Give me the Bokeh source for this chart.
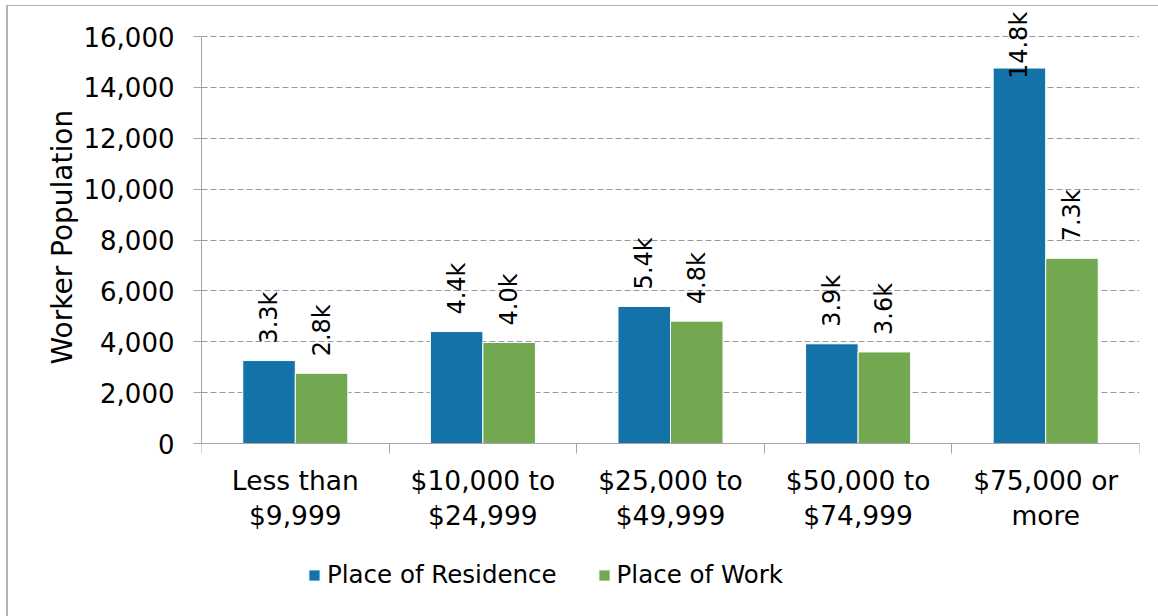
from math import pi
from bokeh.plotting import figure
from bokeh.models import (ColumnDataSource, FixedTicker, NumeralTickFormatter,
                          LabelSet, Legend, LegendItem, Range1d, Title)
from bokeh.core.properties import value
from bokeh.transform import dodge
from bokeh.embed import file_html
from bokeh.resources import INLINE

# ---- data ----
categories = ["Less than\n$9,999", "$10,000 to\n$24,999", "$25,000 to\n$49,999",
              "$50,000 to\n$74,999", "$75,000 or\nmore"]
residence = [3260, 4400, 5390, 3920, 14760]
work = [2760, 3970, 4810, 3600, 7280]
series_names = ["Place of Residence", "Place of Work"]
y_ticks = [0, 2000, 4000, 6000, 8000, 10000, 12000, 14000, 16000]
y_title = "Worker Population"

FONT = "DejaVu Sans"
BLUE = "#1373a9"
GREEN = "#72a84f"
AXIS = "#a6a6a6"
GRID = "#999999"

n = len(categories)
centers = [i + 0.5 for i in range(n)]


def fmt(v):
    return f"{v / 1000:.1f}k"


def offset(v):
    # Excel keeps an outside-end label inside the chart area
    return -11 if v > 13500 else 17


src = ColumnDataSource(dict(
    x=centers,
    res=residence, work=work,
    res_lbl=[fmt(v) for v in residence], work_lbl=[fmt(v) for v in work],
    res_off=[offset(v) for v in residence], work_off=[offset(v) for v in work],
))

# frame spans y=6..616 px; value 0 sits at y=443 and 16,000 at y=36
px_per_unit = 407 / y_ticks[-1]
y_end = y_ticks[-1] + 30 / px_per_unit
y_start = -(616 - 443) / px_per_unit

p = figure(width=1158, height=616, output_backend="svg", toolbar_location=None,
           x_range=Range1d(0, n), y_range=Range1d(y_start, y_end),
           min_border_left=201, min_border_right=19, min_border_top=6,
           min_border_bottom=0)
p.outline_line_color = None
p.border_fill_color = None
p.styles = {"box-shadow": "inset 6px 5px 0 0 #ffffff, inset 8px 6px 0 0 #b3b3b3"}

bw = 0.28
r1 = p.vbar(x=dodge("x", -bw / 2, range=p.x_range), top="res", width=bw, bottom=0,
            source=src, fill_color=BLUE, line_color="white", line_width=1)
r2 = p.vbar(x=dodge("x", bw / 2, range=p.x_range), top="work", width=bw, bottom=0,
            source=src, fill_color=GREEN, line_color="white", line_width=1)

for xs, ys, txt, off in [(-bw / 2, "res", "res_lbl", "res_off"),
                         (bw / 2, "work", "work_lbl", "work_off")]:
    ls = LabelSet(x=dodge("x", xs, range=p.x_range), y=ys, text=txt, source=src,
                  angle=pi / 2, text_align="left", text_baseline="middle",
                  y_offset=off, text_font=value(FONT), text_font_size=value("24px"),
                  text_color="#000000")
    p.add_layout(ls)

# y axis
p.yaxis.ticker = FixedTicker(ticks=y_ticks)
p.yaxis.bounds = (y_ticks[0], y_ticks[-1])
p.yaxis.formatter = NumeralTickFormatter(format="0,0")
p.yaxis.major_label_text_font = FONT
p.yaxis.major_label_text_font_size = "26px"
p.yaxis.major_label_text_color = "#000000"
p.yaxis.major_tick_out = 8
p.yaxis.major_tick_in = 0
p.yaxis.minor_tick_line_color = None
p.yaxis.axis_line_color = AXIS
p.yaxis.major_tick_line_color = AXIS
p.yaxis.major_label_standoff = 19

# y axis title, starting from the frame bottom and lifted to sit beside the 0..16,000 span
ytitle = Title(text=y_title, align="left", offset=252, text_font=FONT,
               text_font_size="28px", text_font_style="normal", text_color="#000000",
               standoff=4)
p.add_layout(ytitle, "left")

# x axis, pinned at value 0 inside the frame
p.xaxis.fixed_location = 0
p.xaxis.ticker = FixedTicker(ticks=centers, minor_ticks=list(range(n + 1)))
p.xaxis.major_label_overrides = {c: lab for c, lab in zip(centers, categories)}
p.xaxis.major_tick_line_color = None
p.xaxis.minor_tick_line_color = AXIS
p.xaxis.minor_tick_out = 10
p.xaxis.minor_tick_in = 0
p.xaxis.axis_line_color = AXIS
p.xaxis.major_label_text_font = FONT
p.xaxis.major_label_text_font_size = "26.5px"
p.xaxis.major_label_text_color = "#000000"
p.xaxis.major_label_text_line_height = 1.13
p.xaxis.major_label_standoff = 11

p.xgrid.grid_line_color = None
p.ygrid.grid_line_color = GRID
p.ygrid.grid_line_dash = "6 3"
p.ygrid.grid_line_width = 1

legend = Legend(items=[LegendItem(label=series_names[0], renderers=[r1]),
                       LegendItem(label=series_names[1], renderers=[r2])],
                location=(106, 27), orientation="horizontal")
legend.border_line_color = None
legend.background_fill_alpha = 0
legend.padding = 0
legend.margin = 0
legend.spacing = 40
legend.label_standoff = 6
legend.glyph_width = 14
legend.glyph_height = 14
legend.label_text_font = FONT
legend.label_text_font_size = "24.5px"
legend.label_text_color = "#000000"
p.add_layout(legend)

open("out.html", "w").write(file_html(p, INLINE))
